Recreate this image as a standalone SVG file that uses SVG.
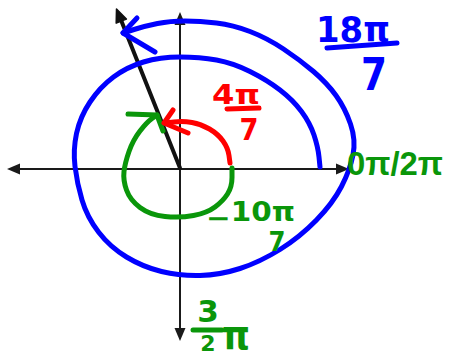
<svg xmlns="http://www.w3.org/2000/svg" width="449" height="358" viewBox="0 0 449 358">
<style>
.ax{stroke:#1a1a1a;stroke-width:2;fill:none}
.ah{fill:#1a1a1a;stroke:none}
.pen{fill:none;stroke-width:5;stroke-linecap:round;stroke-linejoin:round}
.b{stroke:#0000ff}
.g{stroke:#0a960a}
.r{stroke:#ff0000}
.t{font-family:"DejaVu Sans","Liberation Sans",sans-serif;font-weight:bold}
.tl{font-family:"Liberation Sans","DejaVu Sans",sans-serif;font-weight:bold}
.tb{fill:#0000ff}
.tg{fill:#0a960a}
.tr{fill:#ff0000}
</style>
<rect width="449" height="358" fill="#ffffff"/>
<g id="axes">
<line class="ax" x1="14" y1="169" x2="340" y2="169"/>
<line class="ax" x1="180" y1="20" x2="180" y2="333"/>
<polygon class="ah" points="7,169 20,163.5 20,174.5"/>
<polygon class="ah" points="349,169 336,163.5 336,174.5"/>
<polygon class="ah" points="180,12 174.5,25 185.5,25"/>
<polygon class="ah" points="180,341 174.5,328 185.5,328"/>
</g>
<g id="terminal-ray">
<line x1="180" y1="168" x2="121" y2="20" stroke="#111" stroke-width="4" stroke-linecap="round"/>
<polygon points="116.5,9 126.4,19.1 116.2,23.1" fill="#111" stroke="#111" stroke-width="1.5" stroke-linejoin="round"/>
</g>
<g id="connectors">
<path id="arc-18pi7" class="pen b" d="M320,167 L319,157 Q318,147 314,135 Q310,123 301.5,111.5 Q293,100 280,90 Q267,80 250,71.5 Q233,63 216.5,60 Q200,57 180,57 Q160,57 143.5,62 Q127,67 113.5,77 Q100,87 90,102 Q80,117 76.5,133.5 Q73,150 75,166.5 Q77,183 82,200 Q87,217 98.5,232 Q110,247 126.5,257 Q143,267 161.5,271.5 Q180,276 200,275.5 Q220,275 240,268.5 Q260,262 280,249.5 Q300,237 316.5,220 Q333,203 341.5,186.5 Q350,170 353,155 Q356,140 350.5,124 Q345,108 336,95.5 Q327,83 313.5,71.5 Q300,60 283.5,49 Q267,38 250,31.5 Q233,25 216.5,23 Q200,21 185,21 Q170,21 157.5,23.5 Q145,26 134,29.5 L123,33"/>
<path class="pen b" d="M137,18 L123,33 L155,52"/>
<path id="arc-neg10pi7" class="pen g" d="M232,168 L232,177.5 Q232,187 227.5,194 Q223,201 215,207 Q207,213 193.5,215.5 Q180,218 165,216.5 Q150,215 140,207.5 Q130,200 126.5,190 Q123,180 124,171.5 Q125,163 129,151.5 Q133,140 140,131 Q147,122 152,118.5 L157,115"/>
<path class="pen g" d="M128,114 L157,115 L163,131"/>
<path id="arc-4pi7" class="pen r" d="M230,163 L229,155.5 Q228,148 223,141 Q218,134 209.5,129 Q201,124 192,122.5 Q183,121 174,122 L165,123"/>
<path class="pen r" d="M173,110 L164,123 L188,133"/>
</g>
<g id="label-18pi7">
<text class="t tb" x="316" y="42" font-size="36" textLength="74" lengthAdjust="spacingAndGlyphs">18π</text>
<line class="pen b" x1="327" y1="48" x2="397" y2="43"/>
<text class="t tb" x="374" y="90" font-size="44" text-anchor="middle" textLength="26" lengthAdjust="spacingAndGlyphs">7</text>
</g>
<g id="label-4pi7">
<text class="t tr" x="212" y="104" font-size="26" textLength="48" lengthAdjust="spacingAndGlyphs">4π</text>
<line class="pen r" x1="227" y1="109" x2="259" y2="108" stroke-width="4"/>
<text class="t tr" x="249" y="140" font-size="30" text-anchor="middle" textLength="19" lengthAdjust="spacingAndGlyphs">7</text>
</g>
<g id="label-neg10pi7">
<text class="t tg" x="206" y="221" font-size="26" textLength="89" lengthAdjust="spacingAndGlyphs"><tspan dy="6">−</tspan><tspan dy="-6">10π</tspan></text>
<text class="t tg" x="277" y="251" font-size="26" text-anchor="middle" textLength="17" lengthAdjust="spacingAndGlyphs">7</text>
</g>
<g id="label-0pi-2pi">
<text class="tl tg" x="347" y="175" font-size="34" textLength="96" lengthAdjust="spacingAndGlyphs">0π/2π</text>
</g>
<g id="label-3-2pi">
<text class="t tg" x="208" y="322" font-size="31" text-anchor="middle">3</text>
<line class="pen g" x1="193" y1="330" x2="222" y2="330" stroke-width="4"/>
<text class="t tg" x="208" y="351" font-size="22" text-anchor="middle">2</text>
<text class="t tg" x="222" y="349" font-size="40" textLength="28" lengthAdjust="spacingAndGlyphs">π</text>
</g>
</svg>
